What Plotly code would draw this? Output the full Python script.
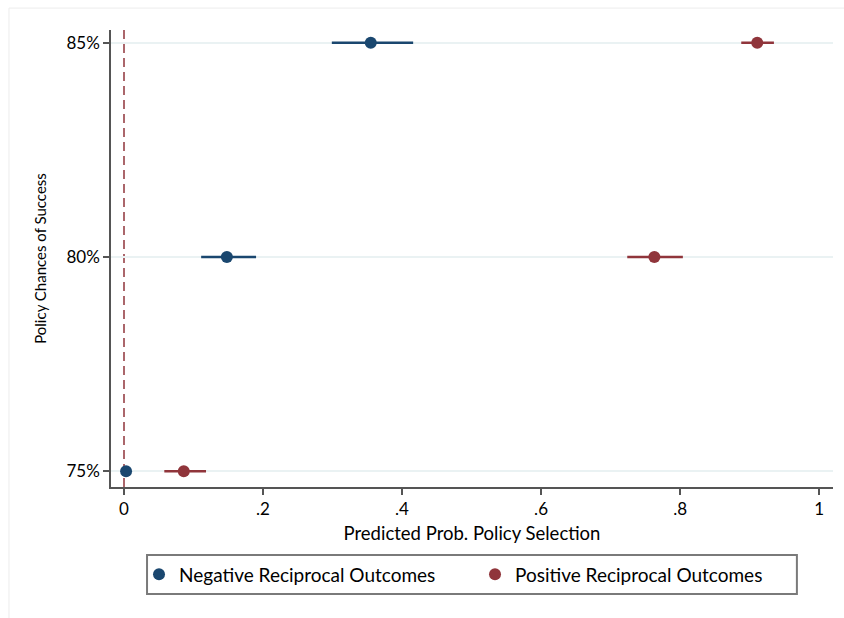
import plotly.graph_objects as go

# Policy chance-of-success levels (percent)
chances = [85, 80, 75]

# Predicted probability of selecting the policy, with 95% CI bounds
neg_prob = [0.355, 0.148, 0.003]
neg_lo = [0.299, 0.111, 0.000]
neg_hi = [0.416, 0.190, 0.006]

pos_prob = [0.911, 0.763, 0.086]
pos_lo = [0.888, 0.724, 0.058]
pos_hi = [0.935, 0.804, 0.118]

x_ticks = [0, 0.2, 0.4, 0.6, 0.8, 1.0]
x_tick_labels = ["0", ".2", ".4", ".6", ".8", "1"]
y_ticks = [75, 80, 85]
y_tick_labels = ["75%", "80%", "85%"]

NAVY = "#1a476f"
MAROON = "#90353b"
FONT = "Lato"
INK = "#000000"


def ci_arrays(prob, lo, hi):
    plus = [h - p for p, h in zip(prob, hi)]
    minus = [p - l for p, l in zip(prob, lo)]
    return plus, minus


fig = go.Figure()

for name, prob, lo, hi, color in [
    ("Negative Reciprocal Outcomes", neg_prob, neg_lo, neg_hi, NAVY),
    ("Positive Reciprocal Outcomes", pos_prob, pos_lo, pos_hi, MAROON),
]:
    plus, minus = ci_arrays(prob, lo, hi)
    fig.add_trace(go.Scatter(
        x=prob, y=chances, mode="markers", name=name,
        marker=dict(color=color, size=12, line=dict(width=0)),
        error_x=dict(type="data", symmetric=False, array=plus,
                     arrayminus=minus, color=color, thickness=2.5, width=0),
    ))

# Reference line at zero probability
fig.add_shape(type="line", xref="x", yref="paper", x0=0, x1=0, y0=0, y1=1,
              line=dict(color=MAROON, width=1.5, dash="9px,5px"), layer="below")

# Faint outer frame
fig.add_shape(type="rect", xref="paper", yref="paper",
              x0=-0.1413, x1=1.3, y0=-0.6, y1=1.048,
              line=dict(color="#ececec", width=1), layer="below")

# Legend frame
fig.add_shape(type="rect", xref="paper", yref="paper",
              x0=0.0499, x1=0.950, y0=-0.2341, y1=-0.1488,
              line=dict(color="#7a7a7a", width=2))

fig.update_layout(
    width=844, height=618,
    margin=dict(l=111, r=11, t=30, b=131),
    paper_bgcolor="white", plot_bgcolor="white",
    font=dict(family=FONT, color=INK, size=18),
    showlegend=True,
    legend=dict(orientation="h", x=0.0388, xanchor="left", y=-0.1915,
                yanchor="middle", bgcolor="rgba(0,0,0,0)", borderwidth=0,
                font=dict(family=FONT, size=19, color=INK),
                entrywidth=291, entrywidthmode="pixels"),
    xaxis=dict(
        range=[-0.0187, 1.020], tickvals=x_ticks, ticktext=x_tick_labels,
        showgrid=False, zeroline=False, showline=True, linecolor="#555555",
        linewidth=1.5, ticks="outside", ticklen=6, tickcolor="#555555",
        tickwidth=1.5, tickfont=dict(size=17, color=INK),
        title=dict(text="Predicted Prob. Policy Selection",
                   font=dict(size=18.5, color=INK), standoff=9),
    ),
    yaxis=dict(
        range=[74.63, 85.30], tickvals=y_ticks, ticktext=y_tick_labels,
        showgrid=True, gridcolor="#eaf2f3", gridwidth=2,
        zeroline=False, showline=True, linecolor="#555555", linewidth=1.5,
        ticks="outside", ticklen=6, tickcolor="#555555", tickwidth=1.5,
        tickfont=dict(size=17, color=INK),
        title=dict(text="Policy Chances of Success",
                   font=dict(size=15, color=INK), standoff=16),
    ),
)

fig.write_html("out.html")
